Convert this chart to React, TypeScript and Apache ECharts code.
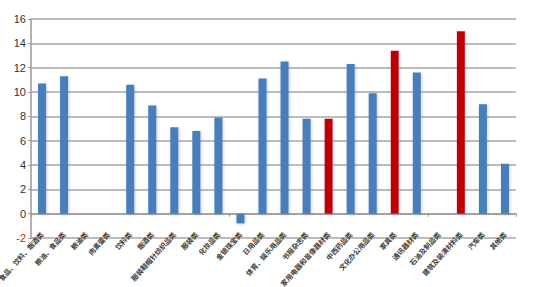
import React, { useEffect, useRef } from "react";
import * as echarts from "echarts";

const categories = [
  "粮油、食品、饮料、烟酒类",
  "粮油、食品类",
  "粮油类",
  "肉禽蛋类",
  "饮料类",
  "烟酒类",
  "服装鞋帽针纺织品类",
  "服装类",
  "化妆品类",
  "金银珠宝类",
  "日用品类",
  "体育、娱乐用品类",
  "书报杂志类",
  "家用电器和音像器材类",
  "中西药品类",
  "文化办公用品类",
  "家具类",
  "通讯器材类",
  "石油及制品类",
  "建筑及装潢材料类",
  "汽车类",
  "其他类",
];

const values: (number | null)[] = [
  10.7, 11.3, null, null, 10.6, 8.9, 7.1, 6.8, 7.9, -0.8, 11.1, 12.5, 7.8, 7.8,
  12.3, 9.9, 13.4, 11.6, 0, 15.0, 9.0, 4.1,
];

const highlighted = ["家用电器和音像器材类", "家具类", "建筑及装潢材料类"];

const yTicks = { min: -2, max: 16, interval: 2 };

export default function App() {
  const ref = useRef<HTMLDivElement>(null);
  useEffect(() => {
    if (!ref.current) return;
    const chart = echarts.init(ref.current, undefined, { renderer: "svg" });
    chart.setOption({
      animation: false,
      backgroundColor: "#ffffff",
      grid: {
        left: 31,
        right: 21,
        top: 19,
        bottom: 49,
        containLabel: false,
        outerBoundsMode: "none",
      },
      xAxis: [
        {
          type: "category",
          data: categories,
          axisLine: { onZero: true, lineStyle: { color: "#9a9a9a", width: 1.5 } },
          axisTick: { show: true, length: 3, lineStyle: { color: "#9a9a9a" } },
          axisLabel: { show: false },
          splitLine: { show: false },
        },
        {
          type: "category",
          data: categories,
          position: "bottom",
          axisLine: { show: false, onZero: false },
          axisTick: { show: false },
          axisLabel: {
            show: true,
            rotate: 48,
            interval: 0,
            margin: -5,
            fontSize: 7,
            color: "#404040",
            fontFamily: "Noto Sans CJK SC",
            fontWeight: "bold",
            hideOverlap: false,
          },
        },
      ],
      yAxis: {
        type: "value",
        min: yTicks.min,
        max: yTicks.max,
        interval: yTicks.interval,
        axisLine: { show: true, lineStyle: { color: "#9a9a9a", width: 1.5 } },
        axisTick: { show: true, length: 3, lineStyle: { color: "#9a9a9a" } },
        axisLabel: {
          margin: 5,
          fontSize: 11,
          fontFamily: "Liberation Sans, Arial, sans-serif",
          color: (v: any) => (Number(v) < 0 ? "#e02020" : "#333333"),
        },
        splitLine: {
          show: true,
          showMinLine: true,
          showMaxLine: true,
          lineStyle: { color: "#a6a6a6", width: 1.5 },
        },
      },
      series: [
        {
          type: "bar",
          xAxisIndex: 0,
          barWidth: 8,
          data: values.map((v, i) => ({
            value: v === null ? "-" : v,
            itemStyle: {
              color: highlighted.includes(categories[i]) ? "#c00000" : "#4a7ebb",
              shadowBlur: 3,
              shadowColor: "rgba(80,120,180,0.35)",
              shadowOffsetX: 1,
              shadowOffsetY: 1,
            },
          })),
        },
      ],
    });
    return () => chart.dispose();
  }, []);
  return (
    <div
      ref={ref}
      style={{ position: "fixed", left: 0, top: 0, width: 537, height: 287 }}
    />
  );
}
